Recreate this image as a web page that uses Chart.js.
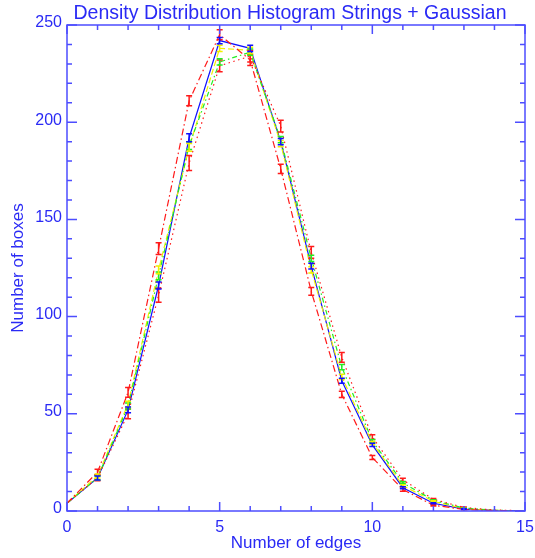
<!DOCTYPE html>
<html>
<head>
<meta charset="utf-8">
<script src="https://cdn.jsdelivr.net/npm/chart.js@4/dist/chart.umd.min.js"></script>
<style>
  body { margin: 0; background: #fff; }
  #box { width: 535px; height: 558px; }
</style>
</head>
<body>
<div id="box"><canvas id="histChart"></canvas></div>
<script>
// number of edges per box
var edges = [0, 1, 2, 3, 4, 5, 6, 7, 8, 9, 10, 11, 12, 13, 14, 15];

// histogram counts, one array per run
var boxesBlue   = [4, 17, 52, 116, 192, 242, 238, 190, 126, 67, 34, 12, 4, 1, 0.3, 0];
var boxesGreen  = [4, 17, 54, 121, 188, 231, 236, 191, 130, 74, 36, 14.5, 5.5, 1.5, 0.4, 0];
var boxesYellow = [4, 18, 55, 124, 187, 238, 237, 189, 124, 69, 35, 13, 5, 1.2, 0.3, 0];
var boxesRedA   = [4, 20, 61, 135, 211, 245, 232, 176, 113, 60, 27.5, 11, 3, 0.8, 0.2, 0];
var boxesRedB   = [4, 17, 50, 111, 179, 229, 234, 198, 133, 79, 38, 16, 6, 1.8, 0.5, 0.1];

// error bar half heights
var errBlue   = [0, 1, 1.5, 1.8, 2, 1.6, 1.6, 1.6, 1.5, 1.3, 0.8, 0.5, 0.3, 0.1, 0, 0];
var errGreen  = [0, 1, 1.5, 2, 2, 1.6, 1.6, 1.6, 1.6, 1.4, 0.8, 0.5, 0.3, 0.1, 0, 0];
var errYellow = [0, 1, 1.5, 2, 2, 1.6, 1.6, 1.6, 1.6, 1.4, 0.8, 0.5, 0.3, 0.1, 0, 0];
var errRedA   = [0, 1.5, 2.5, 3, 2.6, 2.6, 2.8, 2.4, 2, 1.6, 1, 0.8, 0.4, 0.2, 0, 0];
var errRedB   = [0, 1.5, 2.5, 3.6, 3.9, 3, 3, 3, 3, 2.5, 1.2, 0.8, 0.4, 0.2, 0, 0];

var xTicks = [0, 5, 10, 15];
var yTicks = [0, 50, 100, 150, 200, 250];

var axisBlue = '#4d4dff';
var textBlue = '#2a2af5';
var fontFam = '"Liberation Sans", Arial, sans-serif';

function puntos(vals) {
    return edges.map(function (e, i) { return { x: e, y: vals[i] }; });
}

function serie(vals, errs, color, dash) {
    return {
        data: puntos(vals),
        errors: errs,
        borderColor: color,
        backgroundColor: color,
        borderWidth: 1.2,
        borderDash: dash,
        pointRadius: 0,
        tension: 0,
        fill: false
    };
}

// vertical error bars with small caps
var errorBars = {
    id: 'errorBars',
    afterDatasetsDraw: function (chart) {
        var ctx = chart.ctx;
        var y = chart.scales.y;
        chart.data.datasets.forEach(function (ds, i) {
            var meta = chart.getDatasetMeta(i);
            ctx.save();
            ctx.strokeStyle = ds.borderColor;
            ctx.lineWidth = 1.5;
            meta.data.forEach(function (pt, j) {
                var e = ds.errors[j];
                if (!e) return;
                var v = ds.data[j].y;
                var top = y.getPixelForValue(v + e);
                var bot = y.getPixelForValue(v - e);
                ctx.beginPath();
                ctx.moveTo(pt.x, top); ctx.lineTo(pt.x, bot);
                ctx.moveTo(pt.x - 3, top); ctx.lineTo(pt.x + 3, top);
                ctx.moveTo(pt.x - 3, bot); ctx.lineTo(pt.x + 3, bot);
                ctx.stroke();
            });
            ctx.restore();
        });
    }
};

// box around the plot with inward ticks on all four sides, plus the title
var frameTicks = {
    id: 'frameTicks',
    afterDraw: function (chart) {
        var ctx = chart.ctx;
        var a = chart.chartArea;
        var x = chart.scales.x, y = chart.scales.y;
        ctx.save();
        ctx.strokeStyle = axisBlue;
        ctx.lineWidth = 1.5;
        ctx.strokeRect(a.left, a.top, a.right - a.left, a.bottom - a.top);
        ctx.beginPath();
        for (var i = 0; i <= 15; i++) {
            var px = x.getPixelForValue(i);
            var len = (xTicks.indexOf(i) >= 0) ? 9 : 5;
            ctx.moveTo(px, a.bottom); ctx.lineTo(px, a.bottom - len);
            ctx.moveTo(px, a.top); ctx.lineTo(px, a.top + len);
        }
        for (var v = 0; v <= 250; v += 10) {
            var py = y.getPixelForValue(v);
            var l = (yTicks.indexOf(v) >= 0) ? 10 : 5;
            ctx.moveTo(a.left, py); ctx.lineTo(a.left + l, py);
            ctx.moveTo(a.right, py); ctx.lineTo(a.right - l, py);
        }
        ctx.stroke();

        ctx.fillStyle = textBlue;
        ctx.font = '19.5px ' + fontFam;
        ctx.textAlign = 'center';
        ctx.textBaseline = 'alphabetic';
        ctx.fillText('Density Distribution Histogram Strings + Gaussian', 290, 19);
        ctx.restore();
    }
};

var ctx = document.getElementById('histChart');
var config = {
    type: 'line',
    data: {
        datasets: [
            serie(boxesRedB, errRedB, '#ff1a1a', [1.5, 3.5]),
            serie(boxesRedA, errRedA, '#ff1a1a', [7, 3, 1.5, 3]),
            serie(boxesGreen, errGreen, '#22ee22', [5, 3, 1.5, 3]),
            serie(boxesYellow, errYellow, '#f0f000', [6, 3]),
            serie(boxesBlue, errBlue, '#1010ff', [])
        ]
    },
    options: {
        responsive: true,
        maintainAspectRatio: false,
        animation: false,
        layout: { padding: { top: 25, right: 10, left: 0, bottom: 0 } },
        plugins: {
            legend: { display: false },
            tooltip: { enabled: false }
        },
        scales: {
            x: {
                type: 'linear',
                min: 0,
                max: 15,
                afterBuildTicks: function (s) { s.ticks = xTicks.map(function (v) { return { value: v }; }); },
                afterFit: function (s) { s.height = 47; s.paddingLeft = 0; s.paddingRight = 0; },
                grid: { display: false, drawTicks: false },
                border: { display: false },
                ticks: { color: textBlue, font: { family: fontFam, size: 16 }, padding: 7, maxRotation: 0 },
                title: {
                    display: true,
                    text: 'Number of edges',
                    color: textBlue,
                    font: { family: fontFam, size: 17 },
                    padding: { top: 0, bottom: 4 }
                }
            },
            y: {
                min: 0,
                max: 250,
                afterBuildTicks: function (s) { s.ticks = yTicks.map(function (v) { return { value: v }; }); },
                afterFit: function (s) { s.width = 67; s.paddingTop = 0; s.paddingBottom = 0; },
                grid: { display: false, drawTicks: false },
                border: { display: false },
                ticks: { color: textBlue, font: { family: fontFam, size: 16 }, padding: 5, labelOffset: -2 },
                title: {
                    display: true,
                    text: 'Number of boxes',
                    color: textBlue,
                    font: { family: fontFam, size: 17 },
                    padding: { top: 8, bottom: 0 }
                }
            }
        }
    },
    plugins: [errorBars, frameTicks]
};
window.myChart = new Chart(ctx, config);
</script>
</body>
</html>
